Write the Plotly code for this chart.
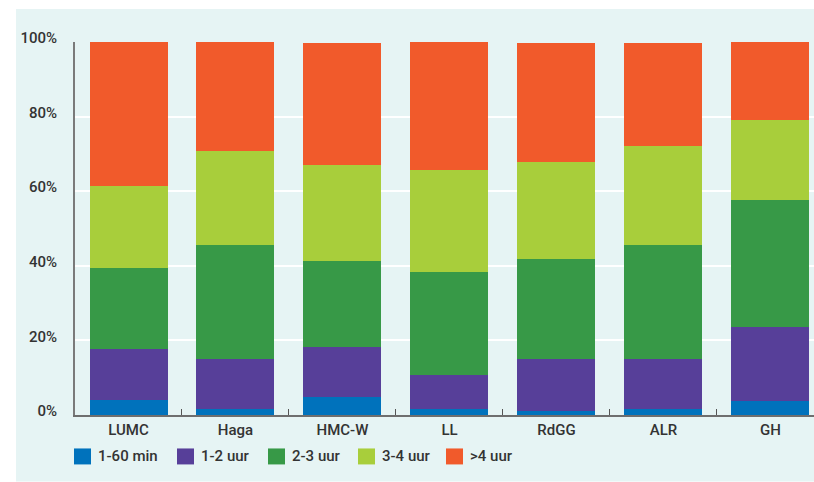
import plotly.graph_objects as go

# Hospitals (x categories)
hospitals = ["LUMC", "Haga", "HMC-W", "LL", "RdGG", "ALR", "GH"]

# Share of patients per time interval (%), stacked bottom to top
series_names = ["1-60 min", "1-2 uur", "2-3 uur", "3-4 uur", ">4 uur"]
min_1_60 = [3.9, 1.5, 4.7, 1.5, 1.2, 1.7, 3.7]
uur_1_2 = [13.9, 13.4, 13.6, 9.1, 13.9, 13.4, 20.0]
uur_2_3 = [21.7, 30.7, 23.1, 27.8, 26.8, 30.5, 34.0]
uur_3_4 = [21.9, 25.2, 25.7, 27.3, 26.0, 26.6, 21.4]
uur_4_plus = [38.6, 29.2, 32.6, 34.3, 31.8, 27.5, 20.9]

y_ticks = [0, 20, 40, 60, 80, 100]
y_tick_labels = ["0%", "20%", "40%", "60%", "80%", "100%"]

colors = ["#0072BC", "#573F99", "#379947", "#A8CE3B", "#F15A2B"]
panel = "#E6F4F4"
text_color = "#333333"

W, H = 814, 482
ML, MR, MT, MB = 75, 0, 42, 66.5
PW, PH = W - ML - MR, H - MT - MB


def px(x):
    return (x - ML) / PW


def py(y):
    return (H - MB - y) / PH


fig = go.Figure()
for name, vals, col in zip(series_names,
                           [min_1_60, uur_1_2, uur_2_3, uur_3_4, uur_4_plus],
                           colors):
    fig.add_trace(go.Bar(x=hospitals, y=vals, name=name, marker_color=col,
                         marker_line_width=0, width=0.729, showlegend=False))

shapes = [dict(type="rect", xref="paper", yref="paper", x0=px(16), x1=px(814),
               y0=py(482), y1=py(9), fillcolor=panel, line_width=0, layer="below")]
annotations = []

# Legend row
sq_left = [74, 177, 268, 358, 446]
for name, col, x0 in zip(series_names, colors, sq_left):
    shapes.append(dict(type="rect", xref="paper", yref="paper", x0=px(x0), x1=px(x0 + 17),
                       y0=py(465), y1=py(449), fillcolor=col, line_width=0))
    annotations.append(dict(xref="paper", yref="paper", x=px(x0 + 22), y=py(457),
                            text=name, showarrow=False, xanchor="left", yanchor="middle",
                            font=dict(family="Roboto", size=15, color=text_color)))

fig.update_layout(
    width=W, height=H,
    margin=dict(l=ML, r=MR, t=MT, b=MB, pad=0),
    paper_bgcolor="white", plot_bgcolor=panel,
    barmode="stack", bargap=0,
    shapes=shapes, annotations=annotations,
    font=dict(family="Roboto", size=15, color=text_color, weight=500),
    xaxis=dict(range=[-0.5, 6.407], showgrid=False, showline=True, linecolor="#6e6e6e",
               linewidth=2, tickson="boundaries", ticks="inside", ticklen=6,
               tickcolor="#555555", tickwidth=1, zeroline=False, fixedrange=True,
               tickfont=dict(family="Roboto", size=15, color=text_color, weight=500)),
    yaxis=dict(range=[0, 100], tickmode="array", tickvals=y_ticks, ticktext=y_tick_labels,
               showgrid=True, gridcolor="white", gridwidth=1.5, showline=True,
               linecolor="#7a7a7a", linewidth=2, ticks="", zeroline=False,
               ticklabelstandoff=13, ticklabelshift=-4,
               tickfont=dict(family="Roboto", size=15, color=text_color, weight=500)),
)

fig.write_html("out.html")
